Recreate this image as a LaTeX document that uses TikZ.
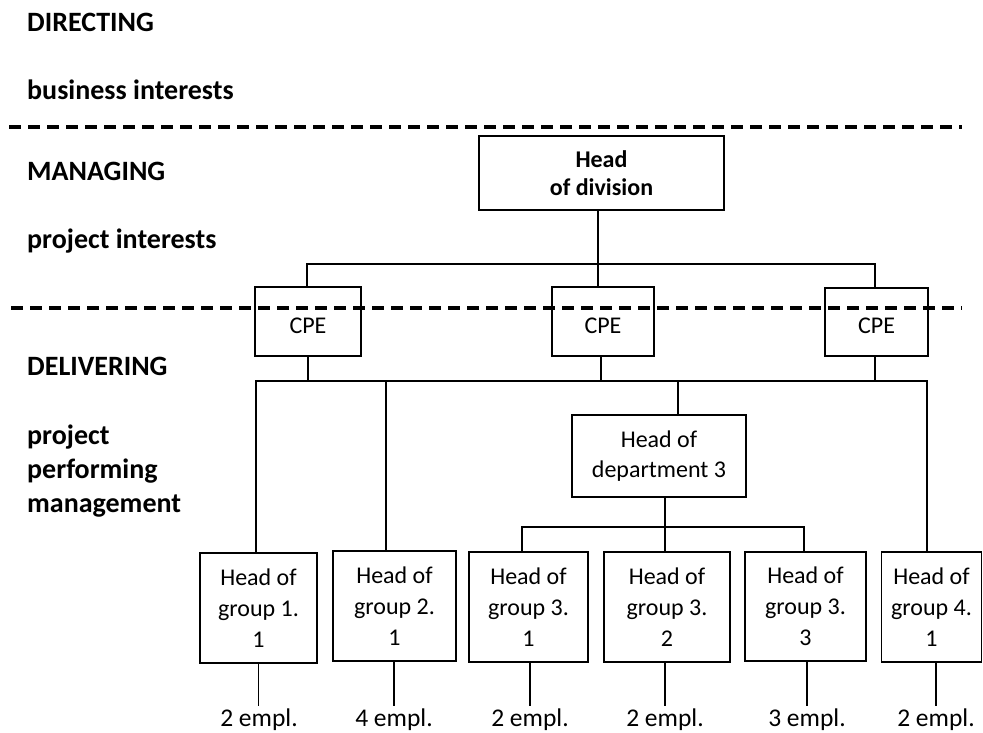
\documentclass[tikz,border=0pt]{standalone}
\usepackage{fontspec}
\setmainfont{Carlito}
\begin{document}
\begin{tikzpicture}[x=1pt,y=-1pt,
  lvl/.style={anchor=base west,inner sep=0pt,font=\fontsize{28}{34}\selectfont\bfseries},
  box/.style={draw,line width=1.9pt,inner sep=0pt,align=center,font=\fontsize{24}{31}\selectfont},
  cpebox/.style={draw,line width=1.9pt,inner sep=0pt,font=\fontsize{24}{31}\selectfont,text height=25pt,text depth=2pt},
  conn/.style={line width=1.4pt},
  sep/.style={line width=3.4pt,dash pattern=on 12pt off 7pt},
  emp/.style={anchor=base,inner sep=0pt,font=\fontsize{25.5}{30}\selectfont}]
\useasboundingbox (0,0) rectangle (983,733);
% level labels
\node[lvl] (l1) at (27,32) {DIRECTING};
\node[lvl] (l2) at (27,100) {business interests};
\node[lvl] (l3) at (27,180) {MANAGING};
\node[lvl] (l4) at (27,248) {project interests};
\node[lvl] (l5) at (27,375) {DELIVERING};
\node[lvl] (l6) at (27,444) {project};
\node[lvl] (l7) at (27,478) {performing};
\node[lvl] (l8) at (27,512) {management};
% separators
\coordinate (s1a) at (9,127); \coordinate (s1b) at (962,127);
\coordinate (s2a) at (11,308); \coordinate (s2b) at (962,308);
% boxes
\node[box,minimum width=245pt,minimum height=74pt,font=\fontsize{24}{28}\selectfont\bfseries] (hd) at (601.5,173) {Head\\of division};
\node[cpebox,minimum width=106pt,minimum height=69pt] (cpe1) at (308,321.5) {CPE};
\node[cpebox,minimum width=102pt,minimum height=69pt] (cpe2) at (603,321.5) {CPE};
\node[cpebox,minimum width=103pt,minimum height=68pt] (cpe3) at (876.5,322) {CPE};
\node[box,minimum width=174pt,minimum height=82pt,font=\fontsize{24}{30}\selectfont] (dept) at (659,456) {Head of\\department 3};
\node[box,minimum width=117pt,minimum height=110pt] (g1) at (258.5,608) {Head of\\group 1.\\1};
\node[box,minimum width=123pt,minimum height=110pt] (g2) at (394.5,606) {Head of\\group 2.\\1};
\node[box,minimum width=119pt,minimum height=110pt] (g31) at (528.5,607) {Head of\\group 3.\\1};
\node[box,minimum width=126pt,minimum height=110pt] (g32) at (667,607) {Head of\\group 3.\\2};
\node[box,minimum width=121pt,minimum height=109pt] (g33) at (805.5,606.5) {Head of\\group 3.\\3};
\node[box,minimum width=100pt,minimum height=110pt] (g41) at (931.5,607) {Head of\\group 4.\\1};
% employee labels
\node[emp] (e1) at (259,726) {2 empl.};
\node[emp] (e2) at (394,726) {4 empl.};
\node[emp] (e31) at (530,726) {2 empl.};
\node[emp] (e32) at (665,726) {2 empl.};
\node[emp] (e33) at (807,726) {3 empl.};
\node[emp] (e41) at (936,726) {2 empl.};
% separators drawn over boxes
\draw[sep] (s1a) -- (s1b);
\draw[sep] (s2a) -- (s2b);
% bus coordinates
\coordinate (bus1) at (0,264);
\coordinate (bus2) at (0,381);
\coordinate (bus3) at (0,527);
\coordinate (elow) at (0,706);
% connectors: division to CPEs
\draw[conn] ([xshift=-3.5pt]hd.south) -- ([xshift=-5pt]cpe2.north);
\draw[conn] ([xshift=-1pt]cpe1.north) -- ([xshift=-1pt]cpe1.north |- bus1) -- ([xshift=-1.5pt]cpe3.north |- bus1) -- ([xshift=-1.5pt]cpe3.north);
% CPEs to lower bus
\draw[conn] (cpe1.south) -- (cpe1.south |- bus2);
\draw[conn] ([xshift=-2pt]cpe2.south) -- ([xshift=-2pt]cpe2.south |- bus2);
\draw[conn] ([xshift=-1.5pt]cpe3.south) -- ([xshift=-1.5pt]cpe3.south |- bus2);
\draw[conn] ([xshift=-2.5pt]g1.north) -- ([xshift=-2.5pt]g1.north |- bus2) -- ([xshift=-4.5pt]g41.north |- bus2) -- ([xshift=-4.5pt]g41.north);
\draw[conn] ([xshift=-8.5pt]g2.north) -- ([xshift=-8.5pt]g2.north |- bus2);
\draw[conn] ([xshift=19pt]dept.north) -- ([xshift=19pt]dept.north |- bus2);
% department to groups
\draw[conn] ([xshift=6pt]dept.south) -- ([xshift=-2pt]g32.north);
\draw[conn] ([xshift=-6.5pt]g31.north) -- ([xshift=-6.5pt]g31.north |- bus3) -- ([xshift=-1.5pt]g33.north |- bus3) -- ([xshift=-1.5pt]g33.north);
% groups to employees
\draw[conn] (g1.south) -- (g1.south |- elow);
\draw[conn] ([xshift=-0.5pt]g2.south) -- ([xshift=-0.5pt]g2.south |- elow);
\draw[conn] ([xshift=1.5pt]g31.south) -- ([xshift=1.5pt]g31.south |- elow);
\draw[conn] ([xshift=-2pt]g32.south) -- ([xshift=-2pt]g32.south |- elow);
\draw[conn] ([xshift=1.5pt]g33.south) -- ([xshift=1.5pt]g33.south |- elow);
\draw[conn] ([xshift=4.5pt]g41.south) -- ([xshift=4.5pt]g41.south |- elow);
\end{tikzpicture}
\end{document}
